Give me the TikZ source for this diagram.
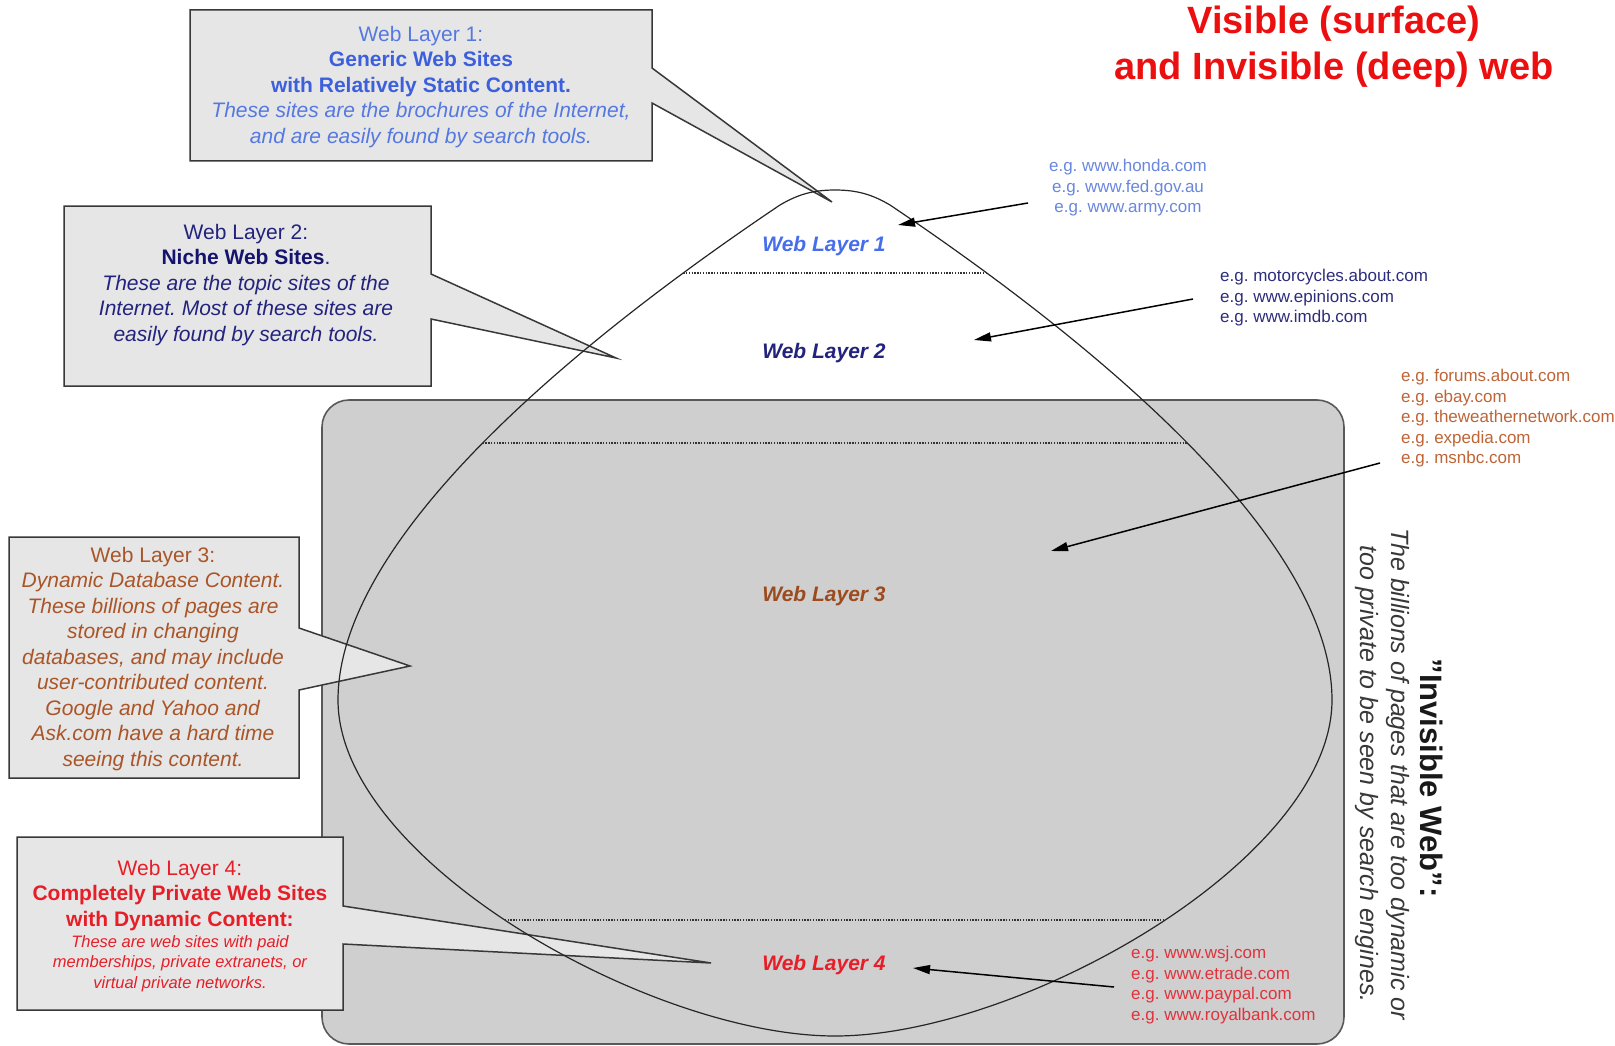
\documentclass[tikz,border=0pt]{standalone}
\usepackage{fontspec}
\setmainfont{Liberation Sans}
\usetikzlibrary{arrows.meta,intersections}
\definecolor{boxgray}{RGB}{207,207,207}
\definecolor{calfill}{RGB}{230,230,230}
\definecolor{lone}{RGB}{85,120,225}
\definecolor{loneb}{RGB}{60,95,220}
\definecolor{lonel}{RGB}{70,110,235}
\definecolor{lonee}{RGB}{105,135,220}
\definecolor{ltwo}{RGB}{35,35,125}
\definecolor{ltwob}{RGB}{20,20,110}
\definecolor{ltwoe}{RGB}{45,45,125}
\definecolor{lthree}{RGB}{170,85,40}
\definecolor{lthreel}{RGB}{155,75,30}
\definecolor{lthreee}{RGB}{190,100,55}
\definecolor{lfour}{RGB}{230,30,40}
\definecolor{lfoure}{RGB}{225,50,60}
\definecolor{titlered}{RGB}{235,15,15}
\newcommand\myfs[2]{\fontsize{#1}{#2}\selectfont}
\frenchspacing
\begin{document}
\begin{tikzpicture}[x=1pt,y=-1pt,
  callout/.style={fill=calfill,draw=black!78,line width=1.5pt,line join=miter},
  txt/.style={inner sep=0pt,align=center},
  lab/.style={inner sep=0pt,font=\myfs{21}{25}\bfseries\itshape},
  ctext/.style={txt,font=\myfs{21}{25.5}},
  extext/.style={txt,font=\myfs{17}{20.5}},
  dotline/.style={draw=black!80,line width=1.2pt,dash pattern=on 1.4pt off 1.4pt},
  arr/.style={draw=black,line width=1.5pt,-{Triangle[length=17pt,width=9pt]}}]
\useasboundingbox (0,0) rectangle (1615,1046);
% invisible web box
\draw[fill=boxgray,draw=black!65,line width=1.6pt,rounded corners=27pt] (322,400) rectangle (1344,1044);
% callouts
\draw[callout] (190,10) -- (652,10) -- (652,68) -- (832,202) -- (652,103) -- (652,161) -- (190,161) -- cycle;
\draw[callout] (64,206) -- (431,206) -- (431,274) -- (616,358) -- (431,319) -- (431,386) -- (64,386) -- cycle;
\draw[callout] (9,537) -- (299,537) -- (299,628) -- (410,666) -- (299,690) -- (299,778) -- (9,778) -- cycle;
\draw[callout] (17,837) -- (343,837) -- (343,906) -- (711,963) -- (343,944) -- (343,1010) -- (17,1010) -- cycle;
% teardrop
\draw[name path=drop,line width=1.2pt,draw=black!85]
  (835,190) .. controls (812,190) and (797,195) .. (780,205)
  .. controls (600,326) and (338,530) .. (338,700)
  .. controls (338,860) and (650,1036) .. (835,1036)
  .. controls (1020,1036) and (1332,860) .. (1332,700)
  .. controls (1332,530) and (1070,326) .. (890,205)
  .. controls (873,195) and (858,190) .. (835,190) -- cycle;
% layer separators
\path[name path=hone] (300,273) -- (1400,273);
\path[name path=htwo] (300,443) -- (1400,443);
\path[name path=hthree] (300,920) -- (1400,920);
\draw[dotline,name intersections={of=drop and hone,name=ia}] (ia-1) -- (ia-2);
\draw[dotline,name intersections={of=drop and htwo,name=ib}] (ib-1) -- (ib-2);
\draw[dotline,name intersections={of=drop and hthree,name=ic}] (ic-1) -- (ic-2);
% layer labels
\node[lab,text=lonel] (wlone) at (824,246) {Web Layer 1};
\node[lab,text=ltwo] (wltwo) at (824,353) {Web Layer 2};
\node[lab,text=lthreel] (wlthree) at (824,596) {Web Layer 3};
\node[lab,text=lfour] (wlfour) at (824,965) {Web Layer 4};
% callout texts
\node[ctext,text=lone] (cone) at (421,87) {Web Layer 1:\\
  {\color{loneb}\bfseries Generic Web Sites}\\
  {\color{loneb}\bfseries with Relatively Static Content.}\\
  \textit{These sites are the brochures of the Internet,}\\
  \textit{and are easily found by search tools.}};
\node[ctext,text=ltwo] (ctwo) at (246,285) {Web Layer 2:\\
  {\color{ltwob}\bfseries Niche Web Sites}.\\
  \textit{These are the topic sites of the}\\
  \textit{Internet. Most of these sites are}\\
  \textit{easily found by search tools.}};
\node[ctext,text=lthree] (cthree) at (153,659) {Web Layer 3:\\
  \textit{Dynamic Database Content.}\\
  \textit{These billions of pages are}\\
  \textit{stored in changing}\\
  \textit{databases, and may include}\\
  \textit{user-contributed content.}\\
  \textit{Google and Yahoo and}\\
  \textit{Ask.com have a hard time}\\
  \textit{seeing this content.}};
\node[ctext,text=lfour] (cfour) at (180,895.5) {Web Layer 4:\\
  \textbf{Completely Private Web Sites}\\
  \textbf{with Dynamic Content:}};
\node[txt,text=lfour,font=\myfs{16.5}{20.5}\itshape] (cfourb) at (180,963.5) {These are web sites with paid\\
  memberships, private extranets, or\\
  virtual private networks.};
% examples
\node[extext,text=lonee] (exone) at (1128,188) {e.g. www.honda.com\\e.g. www.fed.gov.au\\e.g. www.army.com};
\node[extext,text=ltwoe,align=left,anchor=west] (extwo) at (1220,298) {e.g. motorcycles.about.com\\e.g. www.epinions.com\\e.g. www.imdb.com};
\node[extext,text=lthreee,align=left,anchor=west] (exthree) at (1401,418.5) {e.g. forums.about.com\\e.g. ebay.com\\e.g. theweathernetwork.com\\e.g. expedia.com\\e.g. msnbc.com};
\node[extext,text=lfoure,align=left,anchor=west] (exfour) at (1131,985) {e.g. www.wsj.com\\e.g. www.etrade.com\\e.g. www.paypal.com\\e.g. www.royalbank.com};
% arrows
\coordinate (aones) at (1028,203); \coordinate (aonet) at (898,225);
\coordinate (atwos) at (1193,299); \coordinate (atwot) at (974,340);
\coordinate (athrees) at (1380,463); \coordinate (athreet) at (1051,551);
\coordinate (afours) at (1114,987); \coordinate (afourt) at (913,968);
\draw[arr] (aones) -- (aonet);
\draw[arr] (atwos) -- (atwot);
\draw[arr] (athrees) -- (athreet);
\draw[arr] (afours) -- (afourt);
% title
\node[txt,text=titlered,font=\myfs{38}{46}\bfseries] (title) at (1334,47) {Visible (surface)\\and Invisible (deep) web};
% invisible web text
\node[txt,rotate=-90,font=\myfs{31}{34}\bfseries,text=black!90] (invt) at (1432,778) {\symbol{34}Invisible Web\symbol{34}:};
\node[txt,rotate=-90,font=\myfs{25}{31}\itshape,text=black!78] (invb) at (1382.5,774) {The billions of pages that are too dynamic or\\too private to be seen by search engines.};
\end{tikzpicture}
\end{document}
